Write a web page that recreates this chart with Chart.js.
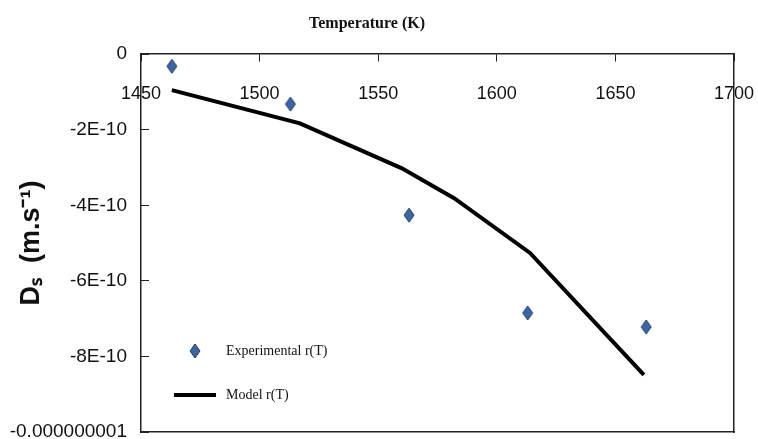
<!DOCTYPE html>
<html>
<head>
<meta charset="utf-8">
<script src="https://cdn.jsdelivr.net/npm/chart.js@4.4.1/dist/chart.umd.min.js"></script>
<style>
  html, body { margin: 0; padding: 0; background: #fff; }
  #wrap { width: 758px; height: 439px; }
</style>
</head>
<body>
<div id="wrap"><canvas id="dsChart"></canvas></div>
<script>
// data
const expTemp = [1463, 1513, 1563, 1613, 1663];
const expDs = [-0.32e-10, -1.32e-10, -4.26e-10, -6.85e-10, -7.22e-10];

const modelTemp = [1463, 1517, 1560, 1582, 1614, 1662];
const modelDs = [-0.95e-10, -1.83e-10, -3.02e-10, -3.81e-10, -5.26e-10, -8.49e-10];

// y tick labels, top to bottom (Excel style)
const yTickLabels = ['0', '-2E-10', '-4E-10', '-6E-10', '-8E-10', '-0.000000001'];

const sans = "'Liberation Sans', Arial, sans-serif";
const serif = "'Liberation Serif', 'Times New Roman', serif";

// diamond marker as a small image
function makeDiamond() {
    const c = document.createElement('canvas');
    c.width = 12; c.height = 16;
    const g = c.getContext('2d');
    g.beginPath();
    g.moveTo(6, 1); g.lineTo(11, 8); g.lineTo(6, 15); g.lineTo(1, 8);
    g.closePath();
    g.fillStyle = '#3d64a3';
    g.fill();
    g.strokeStyle = '#1d3b6e';
    g.lineWidth = 1;
    g.stroke();
    return c;
}

// short thick line for the legend
function makeLineSample() {
    const c = document.createElement('canvas');
    c.width = 42; c.height = 6;
    const g = c.getContext('2d');
    g.fillStyle = '#000';
    g.fillRect(0, 1, 42, 4);
    return c;
}

const toPoints = (xs, ys) => xs.map((x, i) => ({ x: x, y: ys[i] }));

// chartArea legend is laid out from the canvas top, move it into the plot
const legendInPlot = {
    id: 'legendInPlot',
    afterLayout(chart) {
        const lg = chart.legend;
        if (!lg) return;
        lg.top = chart.chartArea.top;
        lg.bottom = chart.chartArea.bottom;
    }
};

const ctx = document.getElementById('dsChart').getContext('2d');
const chart = new Chart(ctx, {
    type: 'scatter',
    data: {
        datasets: [
            {
                label: 'Experimental r(T)',
                data: toPoints(expTemp, expDs),
                pointStyle: makeDiamond(),
                pointRadius: 6,
                backgroundColor: '#3d64a3',
                borderColor: '#1d3b6e'
            },
            {
                label: 'Model r(T)',
                data: toPoints(modelTemp, modelDs),
                showLine: true,
                borderColor: '#000',
                backgroundColor: '#000',
                borderWidth: 4,
                tension: 0,
                pointRadius: 0,
                pointStyle: makeLineSample()
            }
        ]
    },
    plugins: [legendInPlot],
    options: {
        responsive: true,
        maintainAspectRatio: false,
        animation: false,
        layout: { padding: { left: 0, right: 24, top: 0, bottom: 7 } },
        plugins: {
            title: {
                display: true,
                text: 'Temperature (K)',
                color: '#111',
                font: { family: serif, size: 16, weight: 'bold' },
                padding: { top: 14, bottom: 21 }
            },
            legend: {
                position: 'chartArea',
                align: 'end',
                labels: {
                    usePointStyle: true,
                    pointStyleWidth: 48,
                    padding: 30,
                    color: '#111',
                    font: { family: serif, size: 14 }
                }
            },
            tooltip: { enabled: false }
        },
        scales: {
            x: {
                type: 'linear',
                position: { y: 0 },
                min: 1450,
                max: 1700,
                ticks: {
                    stepSize: 50,
                    padding: 22,
                    color: '#111',
                    font: { family: sans, size: 18 },
                    callback: (value) => String(value)
                },
                grid: { display: true, drawOnChartArea: false, tickLength: 7, color: '#222' },
                border: { display: true, color: '#222', width: 1.5 },
                afterFit: (scale) => {
                    scale.paddingLeft = 0;
                    scale.paddingRight = 0;
                }
            },
            y: {
                type: 'linear',
                position: 'left',
                min: -1e-9,
                max: 0,
                ticks: {
                    stepSize: 2e-10,
                    padding: 22,
                    color: '#111',
                    font: { family: sans, size: 19 },
                    callback: (value) => yTickLabels[Math.round(-value / 2e-10)]
                },
                grid: { display: true, drawOnChartArea: false, tickLength: -8, color: '#222' },
                border: { display: true, color: '#222', width: 1.5 },
                title: {
                    display: true,
                    text: 'Dₛ  (m.s⁻¹)',
                    color: '#111',
                    font: { family: sans, size: 27, weight: 'bold' },
                    padding: { top: 15, bottom: 0 }
                },
                afterFit: (scale) => {
                    scale.width = 141;
                    scale.paddingBottom = 4;
                    scale.paddingTop = 4;
                }
            },
            x2: {
                type: 'linear',
                position: 'bottom',
                display: true,
                ticks: { display: false },
                grid: { display: false, drawTicks: false },
                border: { display: true, color: '#222', width: 1.5 }
            },
            y2: {
                type: 'linear',
                position: 'right',
                display: true,
                ticks: { display: false },
                grid: { display: false, drawTicks: false },
                border: { display: true, color: '#222', width: 1.5 }
            }
        }
    }
});
</script>
</body>
</html>
